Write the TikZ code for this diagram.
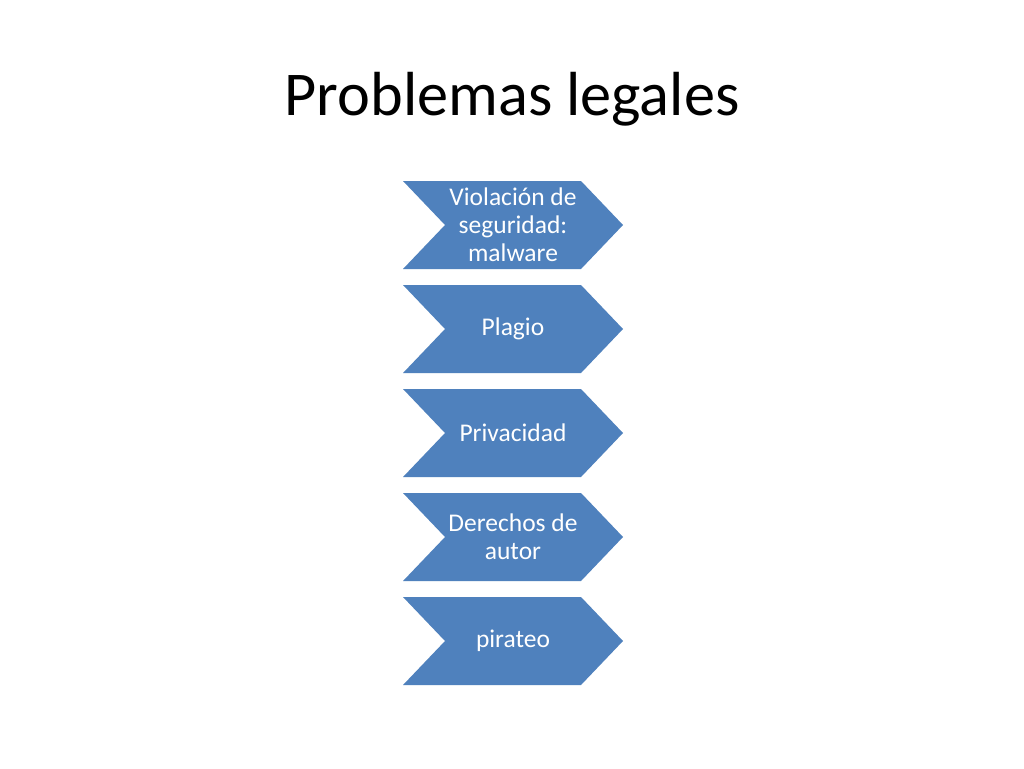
\documentclass[tikz,border=0pt]{standalone}
\usepackage{fontspec}
\setmainfont{Carlito}
\definecolor{chevblue}{HTML}{4F81BD}
\tikzset{
  chevtext/.style={text=white, align=center, inner sep=0pt, font=\fontsize{25.5}{28}\selectfont},
  chevfill/.style={fill=chevblue},
}
\begin{document}
\begin{tikzpicture}[x=1pt,y=-1pt]
\useasboundingbox[fill=white] (0,0) rectangle (1024,768);
\node[font=\fontsize{62.3}{75}\selectfont, inner sep=0pt, anchor=base] (title) at (512,115) {Problemas legales};
\foreach \top/\name in {181/c1,285/c2,389/c3,493/c4,597/c5}{
  \fill[chevfill] (403,\top) -- (581,\top) -- (623,\top+44) -- (581,\top+88) -- (403,\top+88) -- (445,\top+44) -- cycle;
}
\node[chevtext] (c1) at (513,225) {Violación de\\seguridad:\\malware};
\node[chevtext] (c2) at (513,329) {Plagio};
\node[chevtext] (c3) at (513,433) {Privacidad};
\node[chevtext] (c4) at (513,537) {Derechos de\\autor};
\node[chevtext] (c5) at (513,641) {pirateo};
\end{tikzpicture}
\end{document}
